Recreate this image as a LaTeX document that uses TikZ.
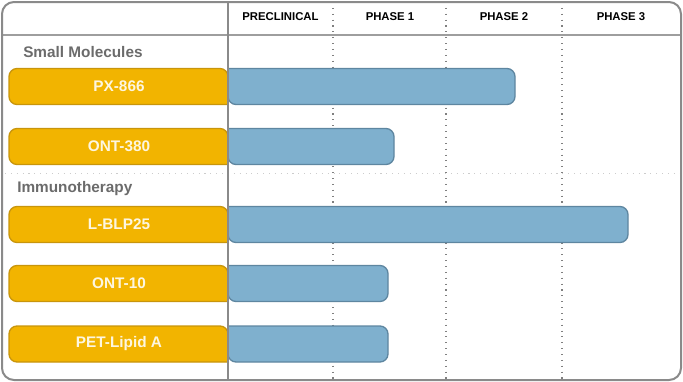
\documentclass[tikz,border=0pt]{standalone}
\usepackage{fontspec}
\setmainfont{Liberation Sans}
\usepackage{tikz}
\usetikzlibrary{calc}
\definecolor{drugorange}{HTML}{F2B400}
\definecolor{drugedge}{HTML}{C8950C}
\definecolor{phaseblue}{HTML}{7FB0CE}
\definecolor{phaseedge}{HTML}{5E86A0}
\definecolor{framegray}{HTML}{8A8A8A}
\tikzset{
   drug node/.style={font=\fontsize{11.5}{13}\selectfont\bfseries,text=white!88!drugorange,inner sep=0pt},
   phase node/.style={font=\fontsize{8.5}{10}\selectfont\bfseries,inner sep=0pt},
   group node/.style={font=\fontsize{11.5}{13}\selectfont\bfseries,text=black!58,anchor=base west,inner sep=0pt},
   drug bar/.style={fill=drugorange,draw=drugedge,line width=1pt},
   phase bar/.style={fill=phaseblue,draw=phaseedge,line width=1pt},
   grid line/.style={draw=framegray,line width=1.5pt},
   phase line/.style={draw=black!50,line width=0.8pt,dash pattern=on 0.8pt off 3.6pt}
}

\begin{document}
\begin{tikzpicture}[x=0.75pt,y=-0.75pt]
\useasboundingbox (0,0) rectangle (683,382);
% phase separators (behind the bars)
\draw[phase line] (333,2) -- (333,380);
\draw[phase line] (446,2) -- (446,380);
\draw[phase line] (562,2) -- (562,380);
\draw[phase line,draw=black!20] (5,173.5) -- (681,173.5);
%
\node[phase node] (precl)  at (280.5,17) {PRECLINICAL};
\node[phase node] (phase1) at (390,17)   {PHASE 1};
\node[phase node] (phase2) at (504,17)   {PHASE 2};
\node[phase node] (phase3) at (621,17)   {PHASE 3};
%
\node[group node] (small)  at (23,57.3)  {Small Molecules};
\node[group node] (immuno) at (17,192.5) {Immunotherapy};
%
\draw[phase bar] (228,68.5) [rounded corners=6pt] -- (515,68.5) -- (515,104.5) -- (228,104.5) [sharp corners] -- cycle;
\draw[drug bar]  (228,104.5) [rounded corners=6pt] -- (9,104.5) -- (9,68.5) -- (228,68.5) [sharp corners] -- cycle;
\node[drug node] (px866) at (119,86.5) {PX-866};
%
\draw[phase bar] (228,128.5) [rounded corners=6pt] -- (394,128.5) -- (394,164.5) -- (228,164.5) [sharp corners] -- cycle;
\draw[drug bar]  (228,164.5) [rounded corners=6pt] -- (9,164.5) -- (9,128.5) -- (228,128.5) [sharp corners] -- cycle;
\node[drug node] (ont380) at (119,146.5) {ONT-380};
%
\draw[phase bar] (228,206.5) [rounded corners=6pt] -- (628,206.5) -- (628,242.5) -- (228,242.5) [sharp corners] -- cycle;
\draw[drug bar]  (228,242.5) [rounded corners=6pt] -- (9,242.5) -- (9,206.5) -- (228,206.5) [sharp corners] -- cycle;
\node[drug node] (lblp25) at (119,224.5) {L-BLP25};
%
\draw[phase bar] (228,265.5) [rounded corners=6pt] -- (388,265.5) -- (388,301.5) -- (228,301.5) [sharp corners] -- cycle;
\draw[drug bar]  (228,301.5) [rounded corners=6pt] -- (9,301.5) -- (9,265.5) -- (228,265.5) [sharp corners] -- cycle;
\node[drug node] (ont10) at (119,283.5) {ONT-10};
%
\draw[phase bar] (228,326) [rounded corners=6pt] -- (388,326) -- (388,362) -- (228,362) [sharp corners] -- cycle;
\draw[drug bar]  (228,362) [rounded corners=6pt] -- (9,362) -- (9,326) -- (228,326) [sharp corners] -- cycle;
\node[drug node] (petlipid) at (119,344) {PET-Lipid A};
%
% frame and header
\draw[grid line,draw=black!38] (2,35) -- (681,35);
\draw[grid line,line width=1.3pt] (228,2) -- (228,380);
\draw[grid line,rounded corners=9pt] (2,2) rectangle (681,380);
\end{tikzpicture}
\end{document}
